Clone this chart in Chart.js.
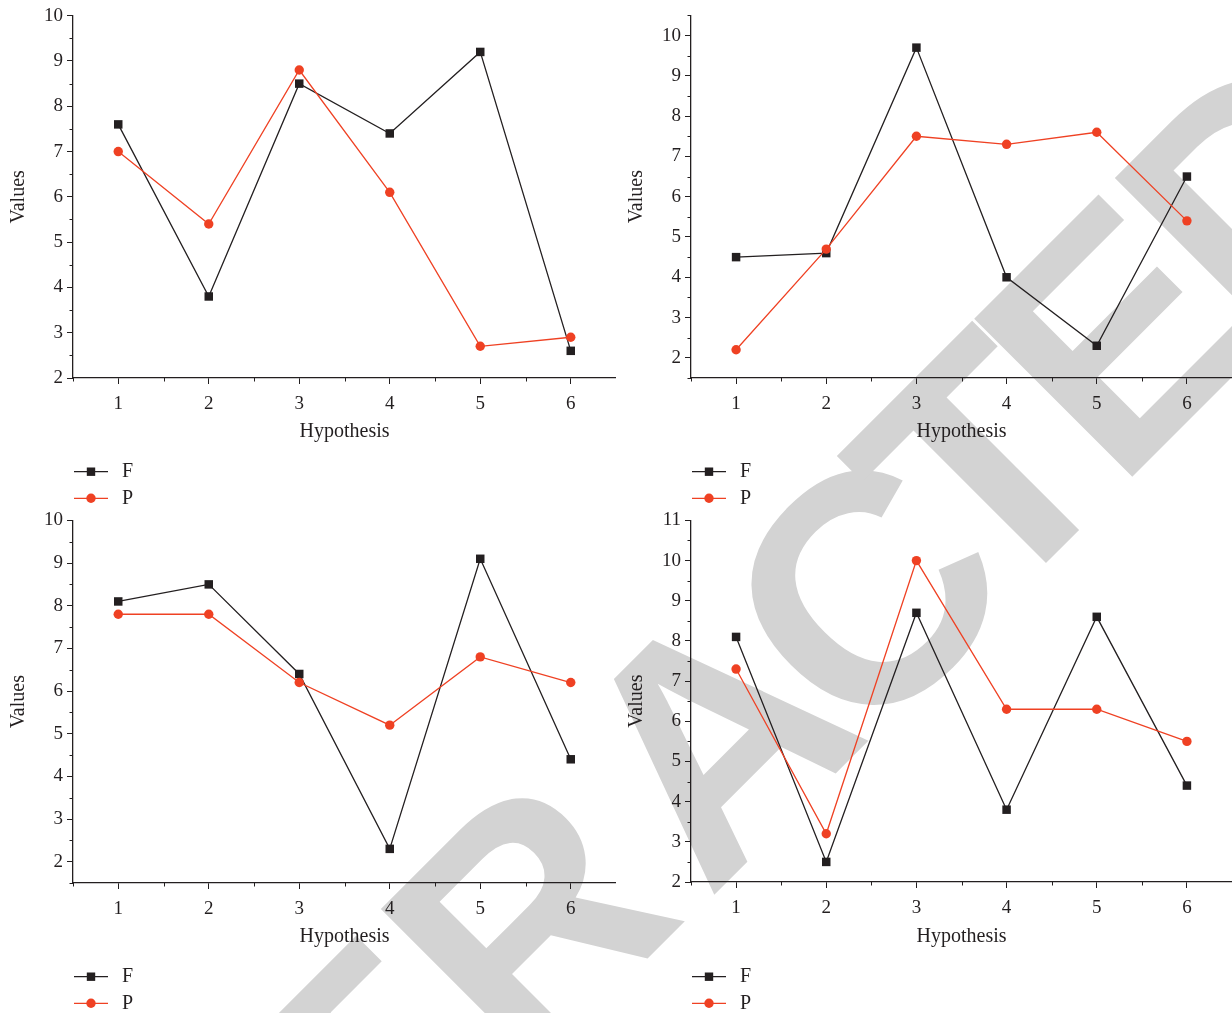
<!DOCTYPE html>
<html>
<head>
<meta charset="utf-8">
<title>F and P values by hypothesis</title>
<script src="https://cdn.jsdelivr.net/npm/chart.js@4.4.1/dist/chart.umd.min.js"></script>
<style>
  html, body { margin: 0; padding: 0; background: #fff; }
  #page { position: relative; width: 1232px; height: 1013px; overflow: hidden; }
  .wm {
    position: absolute;
    font-family: 'Liberation Sans', Arial, sans-serif;
    font-weight: 700;
    font-size: 325px;
    line-height: 1;
    color: #d3d3d3;
    transform: translate(-50%, -50%) rotate(-45deg);
    white-space: nowrap;
  }
  canvas { position: absolute; }
</style>
</head>
<body>
<div id="page">
  <div id="watermark"></div>
  <canvas id="c1" width="616" height="505" style="left:0;top:0;"></canvas>
  <canvas id="c2" width="616" height="505" style="left:616px;top:0;"></canvas>
  <canvas id="c3" width="616" height="508" style="left:0;top:505px;"></canvas>
  <canvas id="c4" width="616" height="508" style="left:616px;top:505px;"></canvas>
</div>
<script>
// --- data ---
const hypothesis = [1, 2, 3, 4, 5, 6];
const seriesNames = ['F', 'P'];

const f1 = [7.6, 3.8, 8.5, 7.4, 9.2, 2.6];
const p1 = [7.0, 5.4, 8.8, 6.1, 2.7, 2.9];

const f2 = [4.5, 4.6, 9.7, 4.0, 2.3, 6.5];
const p2 = [2.2, 4.7, 7.5, 7.3, 7.6, 5.4];

const f3 = [8.1, 8.5, 6.4, 2.3, 9.1, 4.4];
const p3 = [7.8, 7.8, 6.2, 5.2, 6.8, 6.2];

const f4 = [8.1, 2.5, 8.7, 3.8, 8.6, 4.4];
const p4 = [7.3, 3.2, 10.0, 6.3, 6.3, 5.5];

const yTicksTo10 = [2, 3, 4, 5, 6, 7, 8, 9, 10];
const yTicksTo11 = [2, 3, 4, 5, 6, 7, 8, 9, 10, 11];

// --- styling ---
const INK = '#231f20';
const RED = '#ef4123';
const SERIF = "'Liberation Serif', 'Times New Roman', serif";

// watermark letters, placed by hand along a 45° diagonal
const wmLetters = [
  ['E', 226, 1223], ['T', 367, 1082], ['R', 527, 920], ['A', 712, 738],
  ['C', 865, 592], ['T', 983, 467], ['E', 1114, 336], ['D', 1261, 189]
];
const wm = document.getElementById('watermark');
wmLetters.forEach(([ch, x, y]) => {
  const s = document.createElement('span');
  s.className = 'wm';
  s.textContent = ch;
  s.style.left = x + 'px';
  s.style.top = y + 'px';
  wm.appendChild(s);
});

// small half-step ticks on both axes
const minorTicks = {
  id: 'minorTicks',
  afterDraw(chart) {
    const { ctx, scales: { x, y } } = chart;
    ctx.save();
    ctx.strokeStyle = INK;
    ctx.lineWidth = 1;
    ctx.beginPath();
    for (let v = x.min; v <= x.max + 1e-9; v += 1) {
      const px = Math.round(x.getPixelForValue(v)) + 0.5;
      ctx.moveTo(px, y.bottom);
      ctx.lineTo(px, y.bottom + 3.5);
    }
    for (let v = Math.ceil(y.min - 0.5) + 0.5; v <= y.max + 1e-9; v += 1) {
      const py = Math.round(y.getPixelForValue(v)) + 0.5;
      ctx.moveTo(x.left, py);
      ctx.lineTo(x.left - 3.5, py);
    }
    ctx.stroke();
    ctx.restore();
  }
};

// Origin-style legend: short line with marker, label to the right, stacked
const stackedLegend = {
  id: 'stackedLegend',
  afterDraw(chart, args, opts) {
    const { ctx } = chart;
    ctx.save();
    chart.data.datasets.forEach((ds, i) => {
      const y = opts.y[i];
      const x0 = opts.x;
      ctx.strokeStyle = ds.borderColor;
      ctx.lineWidth = 1.3;
      ctx.beginPath();
      ctx.moveTo(x0, y);
      ctx.lineTo(x0 + 34, y);
      ctx.stroke();
      ctx.fillStyle = ds.borderColor;
      if (ds.pointStyle === 'rect') {
        ctx.fillRect(x0 + 17 - 4.2, y - 4.2, 8.4, 8.4);
      } else {
        ctx.beginPath();
        ctx.arc(x0 + 17, y, 4.7, 0, Math.PI * 2);
        ctx.fill();
      }
      ctx.fillStyle = INK;
      ctx.font = '20px ' + SERIF;
      ctx.textBaseline = 'middle';
      ctx.textAlign = 'left';
      ctx.fillText(ds.label, x0 + 48, y);
    });
    ctx.restore();
  }
};

const panels = [
  { id: 'c1', f: f1, p: p1, yMin: 2,   yMax: 10,   yTicks: yTicksTo10, axisW: 73, top: 15.7, bottom: 378, titlePad: 7,  legendX: 74 },
  { id: 'c2', f: f2, p: p2, yMin: 1.5, yMax: 10.5, yTicks: yTicksTo10, axisW: 75, top: 14.9, bottom: 378, titlePad: 9,  legendX: 76 },
  { id: 'c3', f: f3, p: p3, yMin: 1.5, yMax: 10,   yTicks: yTicksTo10, axisW: 73, top: 14,   bottom: 378, titlePad: 7,  legendX: 74 },
  { id: 'c4', f: f4, p: p4, yMin: 2,   yMax: 11,   yTicks: yTicksTo11, axisW: 75, top: 15,   bottom: 377, titlePad: 9,  legendX: 76 }
];

function makeChart(cfg) {
  const canvas = document.getElementById(cfg.id);
  const H = canvas.height;
  const toPoints = vals => hypothesis.map((h, i) => ({ x: h, y: vals[i] }));

  return new Chart(canvas, {
    type: 'line',
    data: {
      datasets: [
        {
          label: seriesNames[0],
          data: toPoints(cfg.f),
          borderColor: INK,
          backgroundColor: INK,
          borderWidth: 1.3,
          pointStyle: 'rect',
          pointRadius: 6,
          pointBorderWidth: 0,
          pointBackgroundColor: INK,
          tension: 0,
          clip: false,
          order: 1
        },
        {
          label: seriesNames[1],
          data: toPoints(cfg.p),
          borderColor: RED,
          backgroundColor: RED,
          borderWidth: 1.3,
          pointStyle: 'circle',
          pointRadius: 4.7,
          pointBorderWidth: 0,
          pointBackgroundColor: RED,
          tension: 0,
          clip: false,
          order: 0
        }
      ]
    },
    options: {
      responsive: false,
      animation: false,
      events: [],
      layout: { autoPadding: false, padding: { top: cfg.top, right: 0, bottom: 0, left: 0 } },
      plugins: {
        legend: { display: false },
        tooltip: { enabled: false },
        stackedLegend: { x: cfg.legendX, y: [471.7, 498.3] }
      },
      scales: {
        x: {
          type: 'linear',
          min: 0.5,
          max: 6.5,
          afterBuildTicks: s => { s.ticks = hypothesis.map(v => ({ value: v })); },
          afterFit: s => { s.height = H - cfg.bottom; },
          border: { display: true, color: INK, width: 1.3 },
          grid: { drawOnChartArea: false, drawTicks: true, tickLength: 6, tickColor: INK, tickWidth: 1 },
          ticks: { color: INK, font: { family: SERIF, size: 19 }, padding: 9, maxRotation: 0 },
          title: {
            display: true,
            text: 'Hypothesis',
            color: INK,
            font: { family: SERIF, size: 20 },
            padding: { top: 0, bottom: H - 432 - 12 }
          }
        },
        y: {
          type: 'linear',
          min: cfg.yMin,
          max: cfg.yMax,
          afterBuildTicks: s => { s.ticks = cfg.yTicks.map(v => ({ value: v })); },
          afterFit: s => { s.width = cfg.axisW; },
          border: { display: true, color: INK, width: 1.3 },
          grid: { drawOnChartArea: false, drawTicks: true, tickLength: 6, tickColor: INK, tickWidth: 1 },
          ticks: { color: INK, font: { family: SERIF, size: 19 }, padding: 4 },
          title: {
            display: true,
            text: 'Values',
            color: INK,
            font: { family: SERIF, size: 20 },
            padding: { top: cfg.titlePad, bottom: 0 }
          }
        }
      }
    },
    plugins: [minorTicks, stackedLegend]
  });
}

panels.forEach(makeChart);
</script>
</body>
</html>
